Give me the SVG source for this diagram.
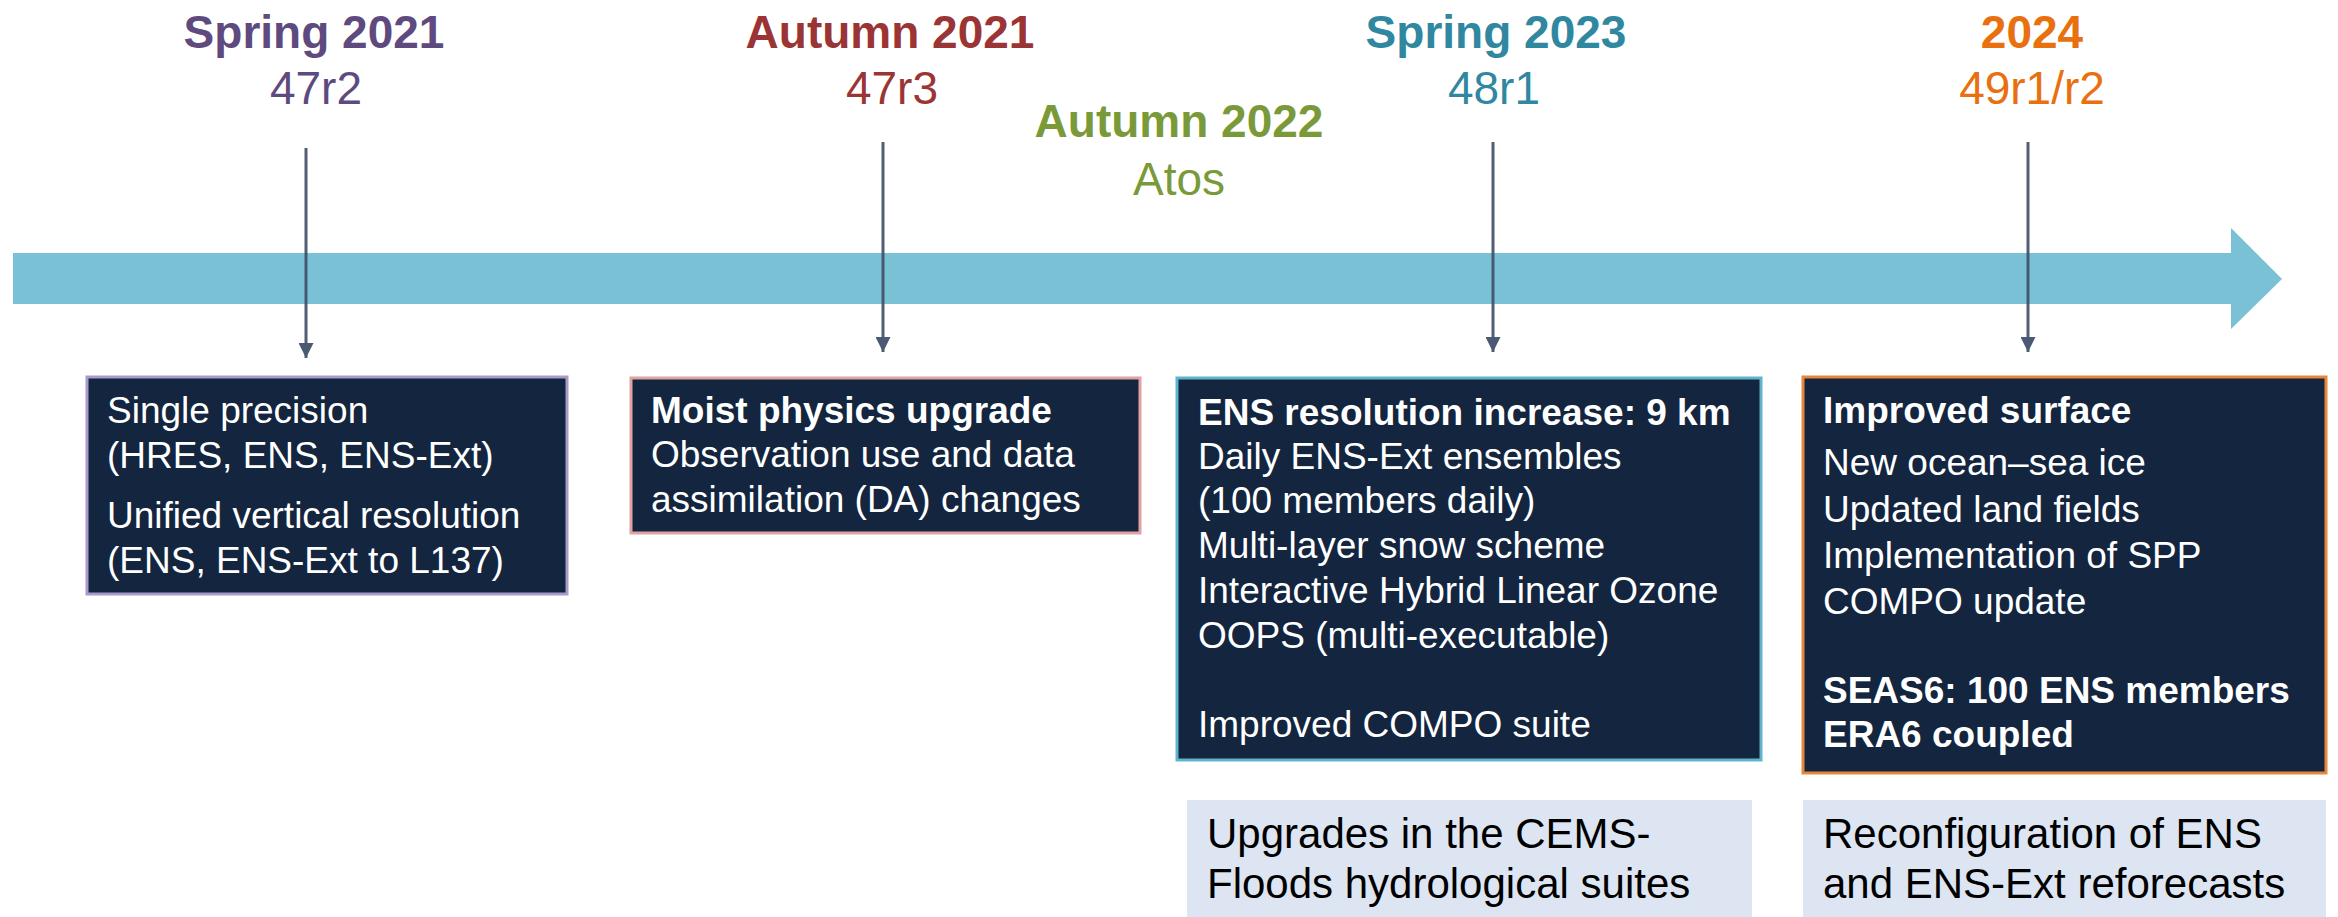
<svg xmlns="http://www.w3.org/2000/svg" width="2338" height="917" viewBox="0 0 2338 917">
  <style>
    text { font-family: "Liberation Sans", Arial, sans-serif; }
    .yr { font-size: 46px; font-weight: bold; text-anchor: middle; }
    .cy { font-size: 46px; text-anchor: middle; }
    .box { fill: #13253f; stroke-width: 3; }
    .bt { font-size: 37px; fill: #ffffff; }
    .b { font-weight: bold; }
    .note { fill: #dce5f1; }
    .nt { font-size: 42px; fill: #000000; }
    .conn { stroke: #3e4e66; stroke-width: 3; stroke-opacity: 0.9; fill: none; marker-end: url(#head); }
  </style>
  <defs>
    <marker id="head" viewBox="0 0 10 10" refX="10" refY="5" markerUnits="userSpaceOnUse" markerWidth="15" markerHeight="15" orient="auto">
      <path d="M0,0 L10,5 L0,10 Z" fill="#4a5a72"/>
    </marker>
  </defs>
  <rect width="2338" height="917" fill="#ffffff"/>

  <!-- timeline arrow -->
  <g id="timeline">
    <polygon points="13,253 2231,253 2231,228 2282,279 2231,329 2231,304 13,304" fill="#7ac1d6"/>
  </g>

  <!-- cycle labels above the timeline -->
  <g id="label-47r2">
    <text class="yr" x="314" y="48" fill="#5e4a7e">Spring 2021</text>
    <text class="cy" x="316" y="104" fill="#5e4a7e">47r2</text>
  </g>
  <g id="label-47r3">
    <text class="yr" x="890" y="48" fill="#9b3535">Autumn 2021</text>
    <text class="cy" x="892" y="104" fill="#9b3535">47r3</text>
  </g>
  <g id="label-atos">
    <text class="yr" x="1179" y="137" fill="#7a9a3a">Autumn 2022</text>
    <text class="cy" x="1179" y="195" fill="#7a9a3a">Atos</text>
  </g>
  <g id="label-48r1">
    <text class="yr" x="1496" y="48" fill="#2f87a0">Spring 2023</text>
    <text class="cy" x="1494" y="104" fill="#2f87a0">48r1</text>
  </g>
  <g id="label-49r1">
    <text class="yr" x="2032" y="48" fill="#e8700f">2024</text>
    <text class="cy" x="2032" y="104" fill="#e8700f">49r1/r2</text>
  </g>

  <!-- connectors from labels down to the boxes -->
  <g id="connectors">
    <line class="conn" x1="306" y1="148" x2="306" y2="358"/>
    <line class="conn" x1="883" y1="142" x2="883" y2="352"/>
    <line class="conn" x1="1493" y1="142" x2="1493" y2="352"/>
    <line class="conn" x1="2028" y1="142" x2="2028" y2="352"/>
  </g>

  <!-- cycle content boxes -->
  <g id="box-47r2">
    <rect class="box" x="87" y="377" width="480" height="217" stroke="#a99bc9"/>
    <text class="bt" x="107" y="423">Single precision</text>
    <text class="bt" x="107" y="468">(HRES, ENS, ENS-Ext)</text>
    <text class="bt" x="107" y="528">Unified vertical resolution</text>
    <text class="bt" x="107" y="573">(ENS, ENS-Ext to L137)</text>
  </g>
  <g id="box-47r3">
    <rect class="box" x="631" y="378" width="509" height="155" stroke="#e0a2a2"/>
    <text class="bt b" x="651" y="423">Moist physics upgrade</text>
    <text class="bt" x="651" y="467">Observation use and data</text>
    <text class="bt" x="651" y="512">assimilation (DA) changes</text>
  </g>
  <g id="box-48r1">
    <rect class="box" x="1177" y="378" width="584" height="382" stroke="#5eb4cc"/>
    <text class="bt b" x="1198" y="425">ENS resolution increase: 9 km</text>
    <text class="bt" x="1198" y="469">Daily ENS-Ext ensembles</text>
    <text class="bt" x="1198" y="513">(100 members daily)</text>
    <text class="bt" x="1198" y="558">Multi-layer snow scheme</text>
    <text class="bt" x="1198" y="603">Interactive Hybrid Linear Ozone</text>
    <text class="bt" x="1198" y="648">OOPS (multi-executable)</text>
    <text class="bt" x="1198" y="737">Improved COMPO suite</text>
  </g>
  <g id="box-49r1">
    <rect class="box" x="1803" y="377" width="523" height="396" stroke="#e8873a"/>
    <text class="bt b" x="1823" y="423">Improved surface</text>
    <text class="bt" x="1823" y="475">New ocean–sea ice</text>
    <text class="bt" x="1823" y="522">Updated land fields</text>
    <text class="bt" x="1823" y="568">Implementation of SPP</text>
    <text class="bt" x="1823" y="614">COMPO update</text>
    <text class="bt b" x="1823" y="703">SEAS6: 100 ENS members</text>
    <text class="bt b" x="1823" y="747">ERA6 coupled</text>
  </g>

  <!-- side notes -->
  <g id="note-cems">
    <rect class="note" x="1187" y="800" width="565" height="117"/>
    <text class="nt" x="1207" y="848">Upgrades in the CEMS-</text>
    <text class="nt" x="1207" y="898">Floods hydrological suites</text>
  </g>
  <g id="note-reforecasts">
    <rect class="note" x="1803" y="800" width="523" height="117"/>
    <text class="nt" x="1823" y="848">Reconfiguration of ENS</text>
    <text class="nt" x="1823" y="898">and ENS-Ext reforecasts</text>
  </g>
</svg>
